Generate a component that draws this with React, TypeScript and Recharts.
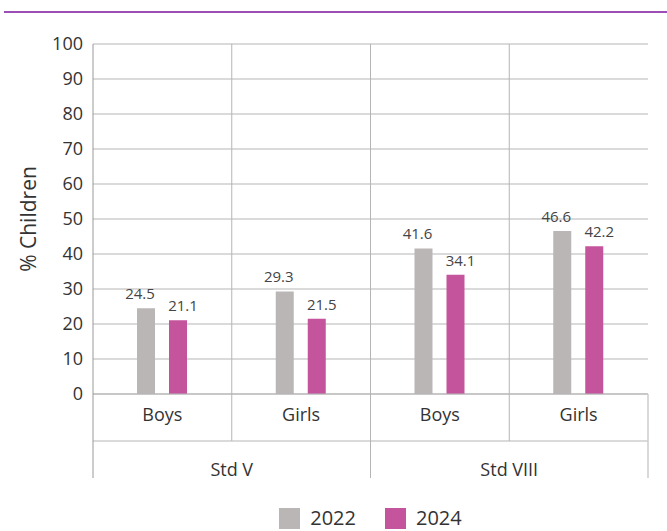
import { BarChart, Bar, XAxis, YAxis, CartesianGrid, LabelList } from "recharts";

const subLabels = ["Boys", "Girls", "Boys", "Girls"];
const groupLabels = ["Std V", "Std V", "Std VIII", "Std VIII"];
const values2022 = [24.5, 29.3, 41.6, 46.6];
const values2024 = [21.1, 21.5, 34.1, 42.2];
const yTicks = [0, 10, 20, 30, 40, 50, 60, 70, 80, 90, 100];

const data = subLabels.map((sub, i) => ({
  key: `${groupLabels[i]}-${sub}`,
  sub,
  group: groupLabels[i],
  y2022: values2022[i],
  y2024: values2024[i],
}));

const W = 667;
const H = 531;
const M = { top: 44, right: 19, bottom: 53, left: 0 };
const Y_W = 93;
const plotW = W - M.right - Y_W;
const halfBand = plotW / subLabels.length / 2;
const font = "'Open Sans', 'Noto Sans', sans-serif";
const lineColor = "#b5b5b5";

const SubTick = (props: any) => {
  const { x, y, index } = props;
  const last = index === subLabels.length - 1;
  return (
    <g>
      <line x1={x - halfBand} x2={x - halfBand} y1={y} y2={y + 47} stroke={index === 0 ? "#999" : lineColor} />
      {last && <line x1={x + halfBand} x2={x + halfBand} y1={y} y2={y + 47} stroke="#ccc" strokeWidth={1.5} />}
      <text x={x} y={y + 27} textAnchor="middle" fontSize={18} fill="#333" fontFamily={font}>
        {subLabels[index]}
      </text>
    </g>
  );
};

const GroupTick = (props: any) => {
  const { x, y, index } = props;
  const last = index === subLabels.length - 1;
  return (
    <g>
      {index % 2 === 0 && (
        <>
          <line x1={x - halfBand} x2={x - halfBand} y1={y} y2={y + 37} stroke={index === 0 ? "#999" : lineColor} />
          <text x={x + halfBand} y={y + 35} textAnchor="middle" fontSize={18} fill="#333" fontFamily={font}>
            {groupLabels[index]}
          </text>
        </>
      )}
      {last && <line x1={x + halfBand} x2={x + halfBand} y1={y} y2={y + 37} stroke="#ccc" strokeWidth={1.5} />}
    </g>
  );
};

const makeLabel = (dx: number) => (props: any) => {
  const { x, y, width, value } = props;
  return (
    <text x={x + width / 2 + dx} y={y - 9} textAnchor="middle" fontSize={15} fill="#444" fontFamily={font}>
      {value}
    </text>
  );
};

const YLabel = (props: any) => {
  const { viewBox } = props;
  const cx = 28;
  const cy = viewBox.y + viewBox.height / 2;
  return (
    <text
      x={cx}
      y={cy}
      transform={`rotate(-90, ${cx}, ${cy})`}
      textAnchor="middle"
      dominantBaseline="central"
      fontSize={21}
      fill="#333"
      fontFamily={font}
    >
      % Children
    </text>
  );
};

const legendItems = [
  { name: "2022", color: "#bab6b6" },
  { name: "2024", color: "#c4559d" },
];

export default function App() {
  return (
    <div style={{ position: "absolute", left: 0, top: 0, width: W, height: H, background: "#fff", fontFamily: font, overflow: "hidden" }}>
      <div style={{ position: "absolute", left: 4, top: 11, width: W - 4, height: 1.5, background: "#9b4fb4" }} />
      <BarChart width={W} height={H} data={data} margin={M} barSize={18} barGap={14}>
        <CartesianGrid
          stroke={lineColor}
          horizontalValues={yTicks}
          verticalCoordinatesGenerator={({ offset }: any) =>
            [1, 2, 3].map((i) => offset.left + (i * offset.width) / subLabels.length)
          }
        />
        <XAxis
          dataKey="key"
          height={47}
          tickSize={0}
          tickMargin={0}
          interval={0}
          tick={SubTick}
          axisLine={{ stroke: lineColor }}
        />
        <XAxis
          xAxisId="group"
          dataKey="key"
          height={37}
          tickSize={0}
          tickMargin={0}
          interval={0}
          tick={GroupTick}
          axisLine={{ stroke: lineColor }}
        />
        <YAxis
          width={Y_W}
          domain={[0, 100]}
          ticks={yTicks}
          interval={0}
          tickSize={0}
          tickMargin={10}
          axisLine={{ stroke: "#999" }}
          tick={{ fontSize: 18, fill: "#333", fontFamily: font }}
          label={<YLabel />}
        />
        <Bar dataKey="y2022" fill={legendItems[0].color} isAnimationActive={false}>
          <LabelList dataKey="y2022" content={makeLabel(-6)} />
        </Bar>
        <Bar dataKey="y2024" fill={legendItems[1].color} isAnimationActive={false}>
          <LabelList dataKey="y2024" content={makeLabel(5)} />
        </Bar>
      </BarChart>
      <div
        style={{
          position: "absolute",
          left: Y_W,
          width: plotW,
          top: 507,
          display: "flex",
          justifyContent: "center",
          gap: 29,
          fontSize: 20,
          lineHeight: "22px",
          color: "#333",
        }}
      >
        {legendItems.map((item) => (
          <div key={item.name} style={{ display: "flex", alignItems: "center", gap: 10 }}>
            <span style={{ width: 21, height: 21, background: item.color, display: "inline-block" }} />
            <span>{item.name}</span>
          </div>
        ))}
      </div>
    </div>
  );
}
